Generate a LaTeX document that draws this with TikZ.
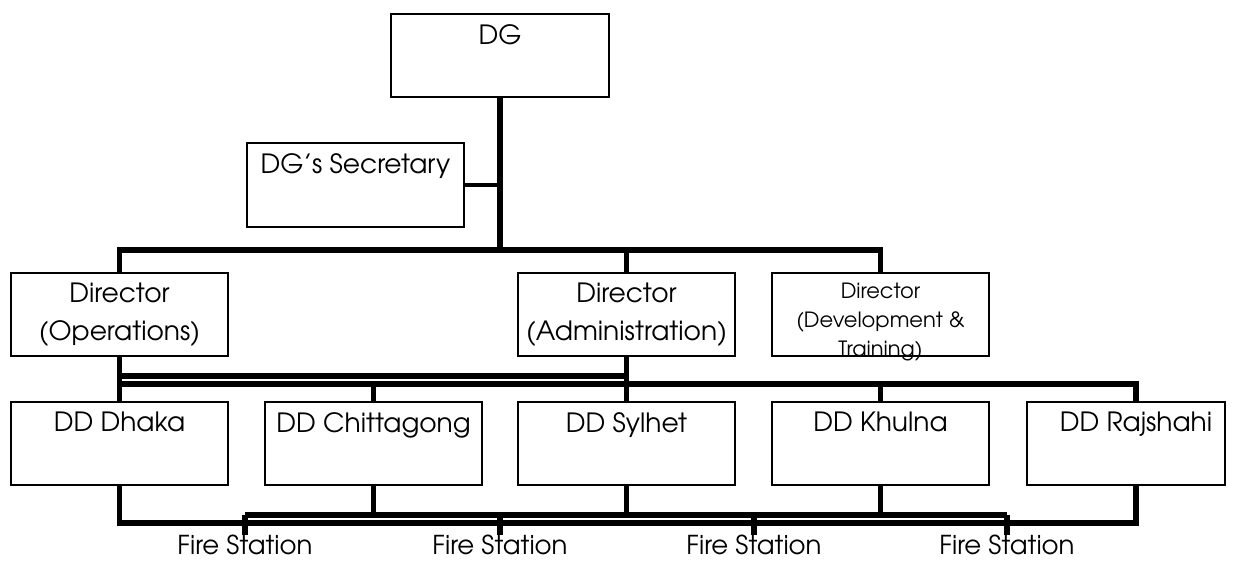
\documentclass[tikz,border=0pt]{standalone}
\usepackage{fontspec}
\setmainfont{TeX Gyre Adventor}
\usepackage{tikz}
\usetikzlibrary{positioning, calc}

\tikzset{
	box/.style = {draw, line width=1.8pt, minimum width=217pt, minimum height=83pt, anchor=north west, outer sep=0pt, inner sep=0pt},
	boxtext/.style = {anchor=north, inner sep=0pt, yshift=-10pt, align=center, font=\fontsize{26.5}{38}\selectfont},
	smalltext/.style = {boxtext, font=\fontsize{21}{29}\selectfont},
	fstext/.style = {anchor=north, inner sep=0pt, font=\fontsize{26}{30}\selectfont},
	conn/.style = {line width=5.5pt}
}

\begin{document}
\begin{tikzpicture}[x=1pt, y=-1pt]
	\useasboundingbox (0,0) rectangle (1234,560);

	% top
	\node[box, minimum width=218pt, label={[boxtext]north:DG}] (dg) at (391,14) {};
	\node[box, minimum height=84pt, label={[boxtext]north:DG's Secretary}] (sec) at (247,143) {};

	% directors
	\node[box, label={[boxtext]north:Director\\(Operations)}] (ops) at (11,273) {};
	\node[box, label={[boxtext]north:Director\\(Administration)}] (adm) at (518,273) {};
	\node[box, label={[smalltext]north:Director\\(Development \&\\Training)}] (dt) at (772,273) {};

	% deputy directors
	\node[box, label={[boxtext]north:DD Dhaka}] (dha) at (11,402) {};
	\node[box, label={[boxtext]north:DD Chittagong}] (chi) at (265,402) {};
	\node[box, label={[boxtext]north:DD Sylhet}] (syl) at (518,402) {};
	\node[box, label={[boxtext]north:DD Khulna}] (khu) at (772,402) {};
	\node[box, minimum width=198pt, label={[boxtext, xshift=10pt]north:DD Rajshahi}] (raj) at (1027,402) {};

	% fire stations
	\node[fstext] (fs1) at (245,535) {Fire Station};
	\node[fstext] (fs2) at (500,535) {Fire Station};
	\node[fstext] (fs3) at (754,535) {Fire Station};
	\node[fstext] (fs4) at (1007,535) {Fire Station};

	\coordinate (topbus) at (0,250);
	\coordinate (midA) at (0,376);
	\coordinate (midB) at (0,384);
	\coordinate (botA) at (0,515);
	\coordinate (botB) at (0,523);
	\coordinate (rajn) at ([xshift=10pt]raj.north);
	\coordinate (rajs) at ([xshift=10pt]raj.south);

	% DG to directors
	\draw[conn] (dg.south) -- (dg.south |- topbus);
	\draw[conn, line width=4pt] (sec.east) -- (sec.east -| dg.south);
	\draw[conn] (ops.north) |- (dt.north |- topbus) -- (dt.north);
	\draw[conn] (adm.north) -- (adm.north |- topbus);

	% directors to DDs
	\draw[conn] (ops.south) -- (dha.north);
	\draw[conn] (adm.south) -- (syl.north);
	\draw[conn] (ops.south |- midA) -- (adm.south |- midA);
	\draw[conn] (ops.south |- midB) -- (rajn |- midB) -- (rajn);
	\foreach \n in {chi, khu}
		\draw[conn] (\n.north |- midB) -- (\n.north);

	% DDs to fire stations
	\draw[conn] (dha.south) |- (rajs |- botB) -- (rajs);
	\draw[conn] (fs1.north |- botA) -- (fs4.north |- botA);
	\foreach \n in {chi, syl, khu}
		\draw[conn] (\n.south) -- (\n.south |- botA);
	\foreach \n in {fs1, fs2, fs3, fs4}
		\draw[conn] (\n.north |- botA) -- (\n.north);
\end{tikzpicture}
\end{document}
